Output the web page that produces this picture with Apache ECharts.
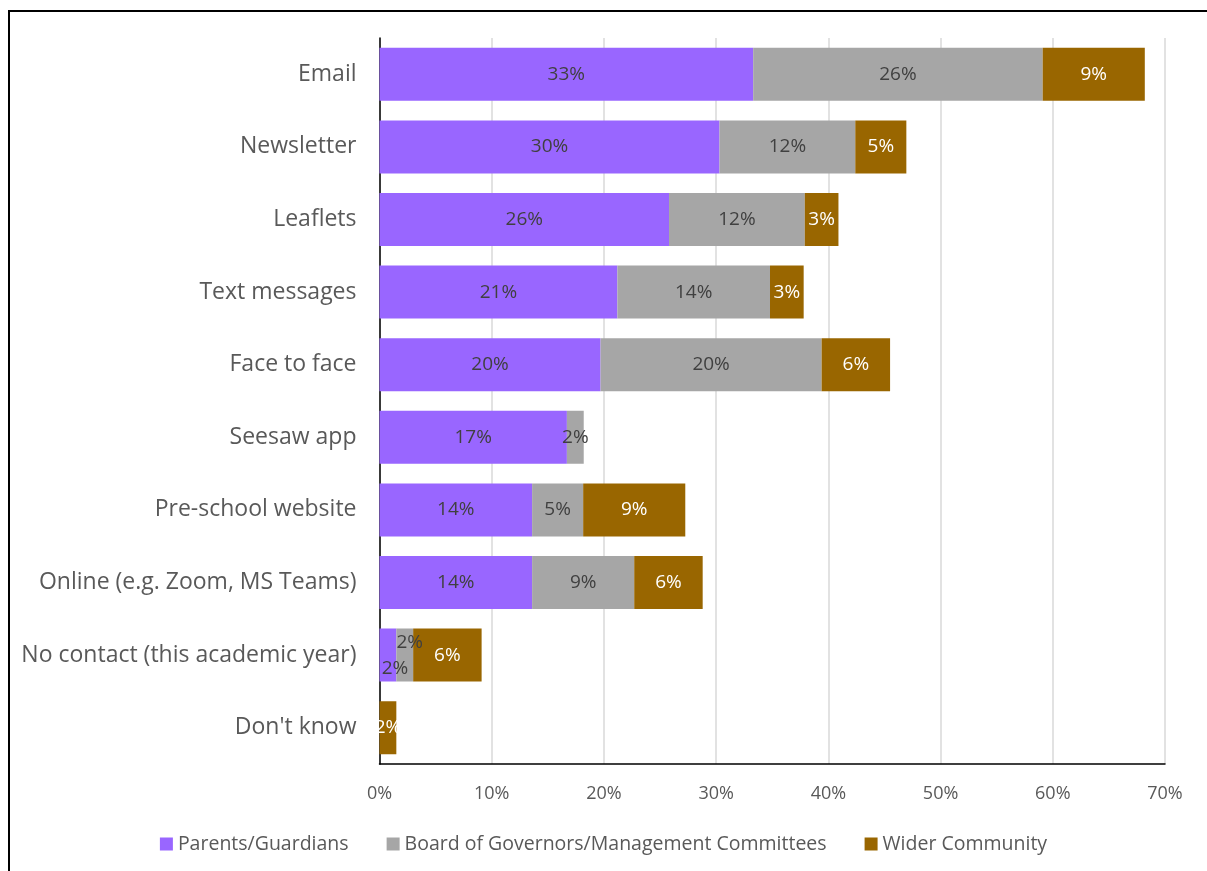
<!DOCTYPE html>
<html>
<head>
<meta charset="utf-8">
<script src="https://cdn.jsdelivr.net/npm/echarts@6/dist/echarts.min.js"></script>
<style>
  html, body { margin: 0; padding: 0; background: #fff; }
  #chart { width: 1207px; height: 871px; }
</style>
</head>
<body>
<div id="chart"></div>
<script>
const categories = [
  'Email', 'Newsletter', 'Leaflets', 'Text messages', 'Face to face',
  'Seesaw app', 'Pre-school website', 'Online (e.g. Zoom, MS Teams)',
  'No contact (this academic year)', "Don't know"
]
const parents = [33.3, 30.3, 25.8, 21.2, 19.7, 16.7, 13.6, 13.6, 1.5, 0]
const governors = [25.8, 12.1, 12.1, 13.6, 19.7, 1.5, 4.55, 9.1, 1.5, 0]
const community = [9.1, 4.55, 3.0, 3.0, 6.1, 0, 9.1, 6.1, 6.1, 1.5]
const xTicks = [0, 10, 20, 30, 40, 50, 60, 70]

const font = '"Open Sans", sans-serif'
const chart = echarts.init(document.getElementById('chart'))

const pctLabel = (p) => (p.value ? Math.round(p.value) + '%' : '')

// the overlapping labels in the "No contact" row are pushed apart
const nudge = (arr, idx, offset) => arr.map((v, i) => i === idx
  ? { value: v, label: { offset } }
  : v)

const makeSeries = (name, data, color, textColor) => ({
  name,
  type: 'bar',
  stack: 'total',
  barWidth: '73%',
  itemStyle: { color },
  label: {
    show: true,
    position: 'inside',
    formatter: pctLabel,
    color: textColor,
    fontFamily: font,
    fontSize: 19
  },
  data
})

chart.setOption({
  animation: false,
  backgroundColor: '#fff',
  graphic: [{
    type: 'rect',
    shape: { x: 9, y: 11, width: 1400, height: 1000 },
    style: { fill: 'none', stroke: '#000', lineWidth: 2 },
    silent: true
  }],
  legend: {
    top: 829,
    left: 'center',
    icon: 'rect',
    itemWidth: 13,
    itemHeight: 13,
    itemGap: 38,
    textStyle: { color: '#595959', fontFamily: font, fontSize: 19.5 }
  },
  grid: { left: 379.5, right: 42, top: 38, bottom: 107 },
  xAxis: {
    type: 'value',
    min: 0,
    max: 70,
    interval: 10,
    axisLine: { show: true, lineStyle: { color: '#000', width: 1.5 } },
    axisTick: { show: false },
    splitLine: { lineStyle: { color: '#d9d9d9', width: 1.5 } },
    axisLabel: {
      color: '#595959',
      fontFamily: font,
      fontSize: 18,
      margin: 21,
      formatter: (v) => xTicks.includes(v) ? v + '%' : ''
    }
  },
  yAxis: {
    type: 'category',
    inverse: true,
    data: categories,
    axisLine: { show: true, lineStyle: { color: '#000', width: 1.5 } },
    axisTick: { show: false },
    axisLabel: { color: '#595959', fontFamily: font, fontSize: 23, margin: 23 }
  },
  series: [
    makeSeries('Parents/Guardians', nudge(parents, 8, [7, 13]), '#9966ff', '#404040'),
    makeSeries('Board of Governors/Management Committees', nudge(governors, 8, [5, -13]), '#a6a6a6', '#404040'),
    makeSeries('Wider Community', community, '#996600', '#ffffff')
  ]
})
</script>
</body>
</html>
